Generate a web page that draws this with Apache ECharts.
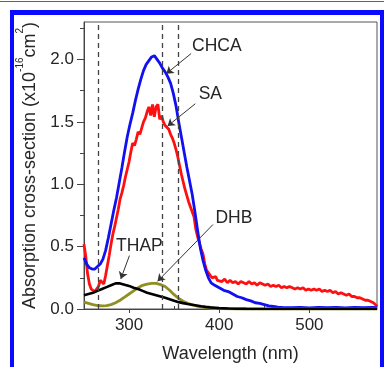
<!DOCTYPE html>
<html>
<head>
<meta charset="utf-8">
<script src="https://cdn.jsdelivr.net/npm/echarts@6/dist/echarts.min.js"></script>
<style>
html, body { margin: 0; padding: 0; background: #fff; }
#wrap { position: relative; width: 384px; height: 367px; overflow: hidden; }
#topline { position: absolute; left: 0; top: 1px; width: 384px; height: 1px; background: #3b63b8; }
#frame { position: absolute; left: 10px; top: 10px; width: 374px; height: 400px; box-sizing: border-box;
  border-style: solid; border-color: #0a0aff; border-width: 5px 4px 0 4px; }
#main { position: absolute; left: 0; top: 0; width: 384px; height: 367px; }
</style>
</head>
<body>
<div id="wrap">
  <div id="topline"></div>
  <div id="frame"></div>
  <div id="main"></div>
</div>
<script>
// SA (red)
const saWl = [250,252,254,256,258,260,262,264,266,268,270,272,274,276,278,280,282,284,286,288,290,292,294,296,298,
  300,302,304,306,308,310,312,314,316,318,320,322,324,326,328,330,332,334,336,338,340,342,344,346,348,
  350,352,354,356,358,360,362,364,366,368,370,372,374,376,378,380,382,384,386,388,390,392,394,396,398,400,
  403,406,409,412,415,418,421,424,427,430,433,436,439,442,445,448,451,454,457,460,463,466,469,472,475,478,
  481,484,487,490,493,496,499,502,505,508,511,514,517,520,523,526,529,532,535,538,541,544,547,550,553,556,
  559,562,565,568,571,574,575];
const saVal = [0.52,0.42,0.28,0.20,0.16,0.15,0.14,0.16,0.18,0.23,0.22,0.20,0.27,0.35,0.43,0.52,0.60,0.66,0.73,0.80,0.88,0.93,0.99,1.06,1.12,
  1.18,1.26,1.33,1.31,1.36,1.42,1.40,1.45,1.50,1.53,1.58,1.62,1.55,1.64,1.54,1.62,1.64,1.52,1.55,1.50,1.47,1.46,1.44,1.40,1.37,
  1.33,1.28,1.22,1.15,1.08,1.02,0.96,0.91,0.86,0.82,0.78,0.74,0.64,0.58,0.53,0.48,0.44,0.36,0.31,0.30,0.27,0.25,0.24,0.26,0.23,0.24,
  0.22,0.24,0.21,0.23,0.21,0.22,0.20,0.22,0.21,0.20,0.22,0.20,0.21,0.19,0.21,0.20,0.19,0.20,0.18,0.19,0.18,0.19,0.17,0.18,0.17,0.18,
  0.17,0.16,0.17,0.16,0.17,0.15,0.16,0.15,0.16,0.15,0.16,0.14,0.15,0.14,0.15,0.13,0.14,0.12,0.13,0.12,0.11,0.12,0.10,0.10,0.09,0.09,
  0.08,0.07,0.07,0.06,0.05,0.03,0.02];

// CHCA (blue)
const chcaWl = [250,253,256,259,262,265,268,271,274,277,280,283,286,289,292,295,298,301,304,307,310,313,316,319,322,325,328,
  331,334,337,340,343,346,349,352,355,358,361,364,367,370,373,376,379,382,385,388,391,395,400,405,410,415,420,425,430,
  435,440,445,450,455,460,465,470,480,490,500,510,520,530,540,550,560,570,575];
const chcaVal = [0.41,0.36,0.33,0.32,0.32,0.34,0.36,0.40,0.47,0.57,0.68,0.79,0.89,1.01,1.13,1.26,1.38,1.48,1.57,1.67,1.76,1.84,1.91,1.96,1.99,2.02,2.03,
  2.00,1.97,1.93,1.90,1.86,1.81,1.73,1.63,1.50,1.38,1.26,1.14,1.03,0.92,0.78,0.63,0.49,0.39,0.31,0.25,0.21,0.19,0.17,0.15,0.14,0.12,0.10,0.09,0.075,
  0.065,0.05,0.045,0.035,0.025,0.02,0.015,0.012,0.01,0.012,0.008,0.012,0.01,0.013,0.009,0.012,0.01,0.012,0.01];

// THAP (black)
const thapWl = [250,255,260,265,270,275,280,285,290,295,300,305,310,315,320,325,330,335,340,345,350,355,360,365,370,375,380,385,390,395,400,410,420,430,450,500,575];
const thapVal = [0.11,0.12,0.13,0.145,0.16,0.175,0.19,0.205,0.205,0.195,0.185,0.17,0.16,0.145,0.13,0.12,0.11,0.10,0.09,0.078,0.066,0.055,0.047,0.04,0.034,0.028,0.022,0.017,0.013,0.01,0.007,0.004,0.002,0.001,0,0,0];

// DHB (olive)
const dhbWl = [250,255,260,265,270,275,280,285,290,295,300,305,310,315,320,325,330,335,340,345,350,355,360,365,370,375,380,385,390,400,410,420,500,575];
const dhbVal = [0.055,0.045,0.035,0.028,0.025,0.027,0.035,0.05,0.07,0.095,0.12,0.145,0.17,0.19,0.2,0.205,0.205,0.195,0.18,0.15,0.115,0.085,0.062,0.045,0.033,0.024,0.017,0.012,0.008,0.004,0.002,0,0,0];

const xTicks = [300, 400, 500];
const xMinorTicks = [350, 450, 550];
const yTicks = [0, 0.5, 1.0, 1.5, 2.0];
const yMinorTicks = [0.25, 0.75, 1.25, 1.75, 2.25];
const laserLines = [266, 337, 355];

// annotations (data coordinates)
const labelNames = ['CHCA', 'SA', 'THAP', 'DHB'];
const labelAt = [[369.8, 2.108], [377.2, 1.718], [285.6, 0.503], [395.8, 0.727]];
const arrowFrom = [[368.8, 2.047], [373.5, 1.645], [300.4, 0.428], [393.1, 0.677]];
const arrowTo = [[341.3, 1.886], [342.7, 1.466], [290.8, 0.241], [331.6, 0.222]];

const FONT = '"Liberation Sans", Arial, sans-serif';
const TXT = '#262626';

function pairs(wl, val) {
    return wl.map((w, i) => [w, val[i]]);
}

const chart = echarts.init(document.getElementById('main'));

chart.setOption({
    animation: false,
    grid: {
        left: 84, top: 22, right: 7, bottom: 58,
        show: true, borderColor: '#555', borderWidth: 1,
        outerBoundsMode: 'none'
    },
    xAxis: [
        {
            type: 'value', min: 250, max: 575,
            name: 'Wavelength (nm)', nameLocation: 'middle', nameGap: 36,
            nameTextStyle: { fontSize: 18, color: TXT, fontFamily: FONT },
            axisLine: { lineStyle: { color: '#444', width: 1 } },
            axisTick: { customValues: xTicks, length: 4, lineStyle: { color: '#444' } },
            axisLabel: { customValues: xTicks, fontSize: 17, color: TXT, fontFamily: FONT, margin: 8 },
            splitLine: { show: false }
        },
        {
            type: 'value', min: 250, max: 575, position: 'bottom',
            axisLine: { show: false },
            axisTick: { customValues: xMinorTicks, inside: true, length: 3, lineStyle: { color: '#444' } },
            axisLabel: { show: false },
            splitLine: { show: false }
        }
    ],
    yAxis: [
        {
            type: 'value', min: 0, max: 2.3,
            name: '{a|Absorption cross-section (x10}{s|-16}{a|cm}{s|2}{a|)}',
            nameLocation: 'middle', nameRotate: 90, nameGap: 39,
            nameTextStyle: {
                rich: {
                    a: { fontSize: 18, lineHeight: 30, color: TXT, fontFamily: FONT },
                    s: { fontSize: 10, lineHeight: 10, verticalAlign: 'top', color: TXT, fontFamily: FONT }
                }
            },
            axisLine: { show: true, lineStyle: { color: '#444', width: 1 } },
            axisTick: { show: true, customValues: yTicks, length: 7, lineStyle: { color: '#444' } },
            axisLabel: {
                customValues: yTicks, fontSize: 17, color: TXT, fontFamily: FONT, margin: 10,
                formatter: v => v.toFixed(1)
            },
            splitLine: { show: false }
        },
        {
            type: 'value', min: 0, max: 2.3, position: 'left',
            axisLine: { show: false },
            axisTick: { show: true, customValues: yMinorTicks, length: 4, lineStyle: { color: '#444' } },
            axisLabel: { show: false },
            splitLine: { show: false }
        }
    ],
    series: [
        {
            name: 'SA', type: 'line', data: pairs(saWl, saVal), showSymbol: false,
            lineStyle: { color: '#ff1010', width: 2.8 }, itemStyle: { color: '#ff1010' },
            markLine: {
                silent: true, symbol: 'none', label: { show: false },
                lineStyle: { color: '#444', width: 1.3, type: [5, 4] },
                data: laserLines.map(v => ({ xAxis: v }))
            }
        },
        {
            name: 'CHCA', type: 'line', data: pairs(chcaWl, chcaVal), showSymbol: false,
            lineStyle: { color: '#1010f0', width: 2.8 }, itemStyle: { color: '#1010f0' }
        },
        {
            name: 'DHB', type: 'line', data: pairs(dhbWl, dhbVal), showSymbol: false,
            lineStyle: { color: '#8f8f24', width: 2.8 }, itemStyle: { color: '#8f8f24' }
        },
        {
            name: 'THAP', type: 'line', data: pairs(thapWl, thapVal), showSymbol: false,
            lineStyle: { color: '#000', width: 2.6 }, itemStyle: { color: '#000' },
            markLine: {
                silent: true, symbol: ['none', 'arrow'], symbolSize: 7, label: { show: false },
                lineStyle: { color: '#333', width: 1, type: 'solid' },
                data: arrowFrom.map((f, i) => [{ coord: f }, { coord: arrowTo[i] }])
            }
        }
    ]
});

chart.setOption({
    graphic: labelNames.map((t, i) => {
        const p = chart.convertToPixel({ seriesIndex: 0 }, labelAt[i]);
        return {
            type: 'text', x: p[0], y: p[1], z: 100,
            style: { text: t, fontSize: 17.5, fontFamily: FONT, fill: TXT, align: 'left', verticalAlign: 'middle' }
        };
    })
});
</script>
</body>
</html>
